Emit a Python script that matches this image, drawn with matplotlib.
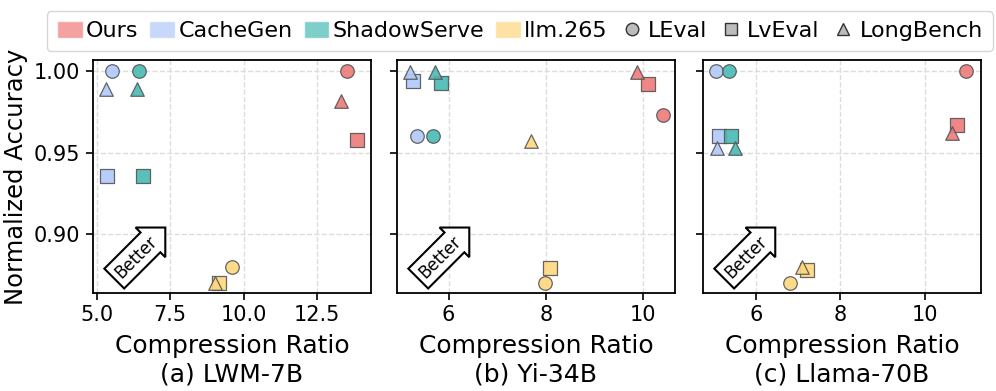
import numpy as np
import matplotlib
matplotlib.use("Agg")
import matplotlib.pyplot as plt
from matplotlib.patches import Patch
from matplotlib.lines import Line2D

# Methods, benchmarks and colours
methods = ["Ours", "CacheGen", "ShadowServe", "llm.265"]
colors = ["#EE7A7A", "#B0C8FA", "#48BAB4", "#FDD77D"]
benchmarks = ["LEval", "LvEval", "LongBench"]
markers = ["o", "s", "^"]
models = ["(a) LWM-7B", "(b) Yi-34B", "(c) Llama-70B"]

# Compression ratio per model: rows = methods, columns = benchmarks (LEval, LvEval, LongBench)
ratio_lwm = [[13.51, 13.88, 13.33],
             [5.53, 5.36, 5.32],
             [6.43, 6.59, 6.38],
             [9.62, 9.17, 9.02]]
acc_lwm = [[1.000, 0.958, 0.982],
           [1.000, 0.936, 0.989],
           [1.000, 0.936, 0.989],
           [0.880, 0.870, 0.870]]

ratio_yi = [[10.40, 10.09, 9.88],
            [5.36, 5.27, 5.21],
            [5.68, 5.85, 5.72],
            [7.99, 8.09, 7.70]]
acc_yi = [[0.973, 0.992, 0.9995],
          [0.960, 0.994, 0.9995],
          [0.960, 0.993, 0.9995],
          [0.870, 0.879, 0.957]]

ratio_llama = [[10.98, 10.75, 10.64],
               [5.05, 5.14, 5.08],
               [5.36, 5.41, 5.51],
               [6.80, 7.20, 7.09]]
acc_llama = [[1.000, 0.967, 0.962],
             [1.000, 0.960, 0.953],
             [1.000, 0.960, 0.953],
             [0.870, 0.878, 0.880]]

ratios = [ratio_lwm, ratio_yi, ratio_llama]
accs = [acc_lwm, acc_yi, acc_llama]
xlims = [(4.87, 14.34), (4.94, 10.65), (4.75, 11.32)]
xticks = [[5.0, 7.5, 10.0, 12.5], [6, 8, 10], [6, 8, 10]]
xticklabels = [["5.0", "7.5", "10.0", "12.5"], ["6", "8", "10"], ["6", "8", "10"]]

plt.rcParams["font.family"] = ["DejaVu Sans"]

fig = plt.figure(figsize=(9.96, 3.91), dpi=100)
lefts = [0.0934, 0.3986, 0.7058]
width = 0.279
axes = []
for k in range(3):
    ax = fig.add_axes([lefts[k], 0.251, width, 0.596])
    axes.append(ax)
    for i in range(len(methods)):
        for j in range(len(benchmarks)):
            ax.scatter(ratios[k][i][j], accs[k][i][j], s=95, marker=markers[j],
                       color=colors[i], alpha=0.9, edgecolor="#555555",
                       linewidth=0.9, zorder=3)
    ax.set_xlim(*xlims[k])
    ax.set_ylim(0.864, 1.007)
    ax.set_xticks(xticks[k])
    ax.set_xticklabels(xticklabels[k])
    ax.set_yticks([0.90, 0.95, 1.00])
    if k == 0:
        ax.set_yticklabels(["0.90", "0.95", "1.00"])
        ax.set_ylabel("Normalized Accuracy", fontsize=17.5, labelpad=4)
    else:
        ax.set_yticklabels([])
    ax.tick_params(labelsize=15, width=1.2, length=5, pad=4)
    ax.set_xlabel("Compression Ratio\n" + models[k], fontsize=18, linespacing=1.25,
                  labelpad=6)
    ax.grid(True, linestyle="--", color="#dddddd", linewidth=1.0)
    ax.set_axisbelow(True)
    for sp in ax.spines.values():
        sp.set_linewidth(1.3)
    ax.text(0.155, 0.155, "Better", transform=ax.transAxes, rotation=45,
            ha="center", va="center", fontsize=12, zorder=4,
            bbox=dict(boxstyle="rarrow,pad=0.3", fc="white", ec="black", lw=1.5))

handles = [Patch(facecolor=c, edgecolor="white", alpha=0.7, label=m)
           for m, c in zip(methods, colors)]
handles += [Line2D([], [], marker=mk, color="none", markerfacecolor="#BBBBBB",
                   markeredgecolor="#333333", markersize=9, label=b)
            for mk, b in zip(markers, benchmarks)]
fig.legend(handles=handles, loc="upper center", bbox_to_anchor=(0.522, 1.0),
           ncol=7, fontsize=16, frameon=True, handlelength=1.15,
           handleheight=0.75, handletextpad=0.15, columnspacing=0.5,
           borderpad=0.45, fancybox=True, edgecolor="#cccccc")

fig.savefig("out.png", dpi=100)
